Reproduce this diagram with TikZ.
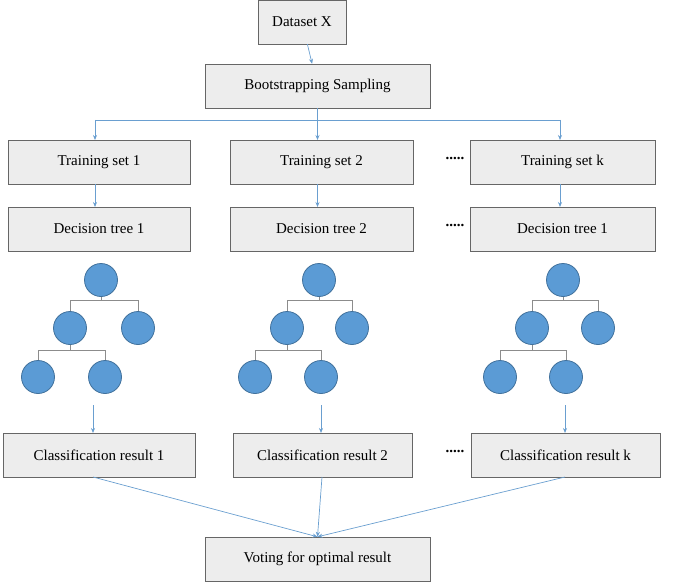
\documentclass[tikz,border=0pt]{standalone}
\usepackage{fontspec}
\setmainfont{Liberation Serif}
\usetikzlibrary{arrows.meta}
\definecolor{ar}{HTML}{6A9FD0}
\definecolor{cf}{HTML}{5B9BD5}
\definecolor{cb}{HTML}{41719C}
\begin{document}
\begin{tikzpicture}[x=1pt,y=-1pt,
 box/.style={draw=black!60,fill=black!7,minimum height=44pt,inner sep=0pt,font=\fontsize{15}{17}\selectfont},
 arr/.style={draw=ar,-{Stealth[length=5pt,width=4pt]},line width=0.7pt},
 ln/.style={draw=ar,line width=0.7pt},
 tl/.style={draw=black!45,line width=0.6pt},
 nd/.style={circle,fill=cf,draw=cb,line width=0.8pt,minimum size=33pt,inner sep=0pt},
 dots/.style={font=\bfseries\fontsize{15}{17}\selectfont}]
\useasboundingbox (0,0) rectangle (685,583);
\node[box,minimum width=88pt] (ds) at (302,22) {Dataset X};
\node[box,minimum width=225pt] (bs) at (317.5,86) {Bootstrapping Sampling};
\node[box,minimum width=182pt] (t1) at (99,162) {Training set 1};
\node[box,minimum width=183pt] (t2) at (321.5,162) {Training set 2};
\node[box,minimum width=185pt] (t3) at (562.5,162) {Training set k};
\node[box,minimum width=182pt] (d1) at (99,229) {Decision tree 1};
\node[box,minimum width=183pt] (d2) at (321.5,229) {Decision tree 2};
\node[box,minimum width=185pt] (d3) at (562.5,229) {Decision tree 1};
\node[box,minimum width=192pt] (c1) at (99,455) {Classification result 1};
\node[box,minimum width=179pt] (c2) at (322.5,455) {Classification result 2};
\node[box,minimum width=189pt] (c3) at (565.5,455) {Classification result k};
\node[box,minimum width=225pt] (v) at (317.5,559) {Voting for optimal result};
\node[dots] (o1) at (455,158) {.....};
\node[dots] (o2) at (455,225) {.....};
\node[dots] (o3) at (455,451) {.....};
\draw[arr] (ds) -- (bs);
\coordinate (h) at (317.5,120);
\draw[ln] (bs) -- (h);
\draw[ln] (95,120) -- (560,120);
\draw[arr] (95,120) -- (95,140);
\draw[arr] (h) -- (317.5,140);
\draw[arr] (560,120) -- (560,140);
\draw[arr] (95,184) -- (95,207);
\draw[arr] (317.5,184) -- (317.5,207);
\draw[arr] (560,184) -- (560,207);
\foreach \n/\rx/\ax/\bx/\cx/\dx/\ex in {a/101/70/138/38/105/93, b/319/287/352/255/321/321, c/563/532/598/500/566/565}{
 \draw[tl] (\rx,280) -- (\rx,300) (\ax,300) -- (\bx,300) (\ax,300)--(\ax,328) (\bx,300)--(\bx,328);
 \draw[tl] (\ax,328) -- (\ax,350) (\cx,350) -- (\dx,350) (\cx,350)--(\cx,377) (\dx,350)--(\dx,377);
 \node[nd] (\n1) at (\rx,280) {};
 \node[nd] (\n2) at (\ax,328) {};
 \node[nd] (\n3) at (\bx,328) {};
 \node[nd] (\n4) at (\cx,377) {};
 \node[nd] (\n5) at (\dx,377) {};
 \draw[arr] (\ex,405) -- (\ex,433);
}
\draw[ln,-{Stealth[length=5pt,width=4pt]}] (93,477) -- (v.north);
\draw[arr] (322,477) -- (v.north);
\draw[arr] (565,477) -- (v.north);
\end{tikzpicture}
\end{document}
